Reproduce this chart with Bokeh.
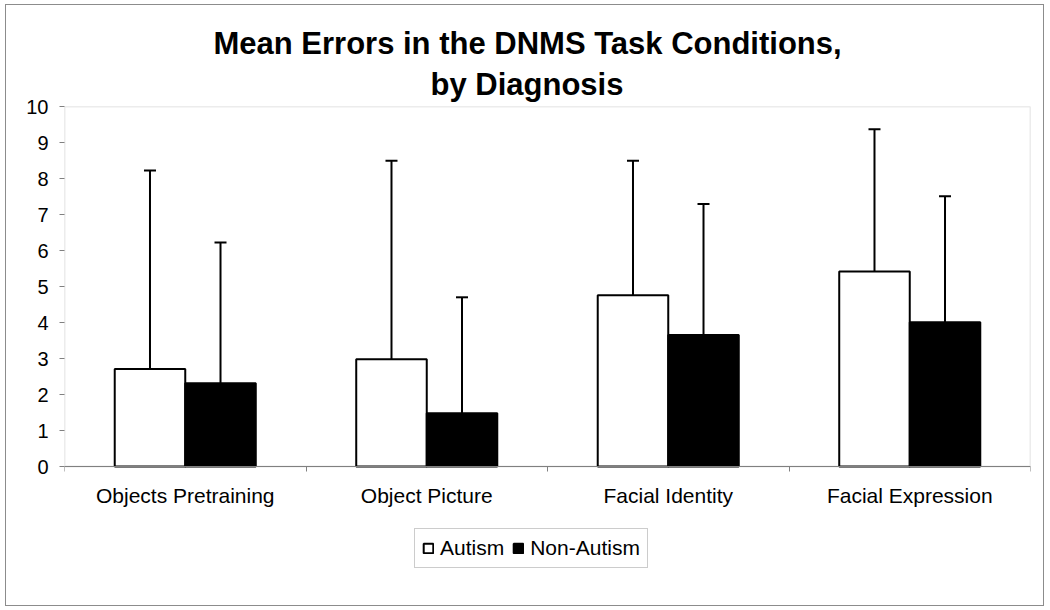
from bokeh.plotting import figure
from bokeh.models import (ColumnDataSource, Range1d, FixedTicker, Whisker, TeeHead,
                          Legend, LegendItem, Title, BoxAnnotation)
from bokeh.embed import file_html
from bokeh.resources import INLINE

categories = ["Objects Pretraining", "Object Picture", "Facial Identity", "Facial Expression"]
series = ["Autism", "Non-Autism"]
autism_mean = [2.71, 2.98, 4.76, 5.42]
autism_sd = [5.51, 5.51, 3.73, 3.95]
non_autism_mean = [2.31, 1.48, 3.65, 4.01]
non_autism_sd = [3.91, 3.22, 3.64, 3.50]
y_ticks = list(range(0, 11))
title_lines = ["Mean Errors in the DNMS Task Conditions,", "by Diagnosis"]

FONT = "Liberation Sans"
GRAY = "#808080"
BAR_W = 0.292
PX_PER_UNIT = 36          # 360 px for the 0-10 value axis
BELOW_PX = 134            # room under the value axis for labels and legend

centers = [i + 0.5 for i in range(len(categories))]

src_a = ColumnDataSource(dict(
    x=[c - BAR_W / 2 for c in centers], top=autism_mean,
    upper=[m + s for m, s in zip(autism_mean, autism_sd)]))
src_n = ColumnDataSource(dict(
    x=[c + BAR_W / 2 for c in centers], top=non_autism_mean,
    upper=[m + s for m, s in zip(non_autism_mean, non_autism_sd)]))

p = figure(frame_width=966, frame_height=10 * PX_PER_UNIT + BELOW_PX,
           output_backend="svg", toolbar_location=None, title=None,
           x_range=Range1d(0, len(categories)),
           y_range=Range1d(-BELOW_PX / PX_PER_UNIT, 10),
           min_border_left=58, min_border_right=13, min_border_top=101, min_border_bottom=5)
p.margin = (4, 0, 0, 5)
p.styles = {"border": "1px solid #8c8c8c"}

# two title lines (first added sits nearest the frame)
t2 = Title(text=title_lines[1], align="left", text_font=FONT, text_font_size="31px",
           text_font_style="bold", text_color="black", offset=366, standoff=9)
t1 = Title(text=title_lines[0], align="left", text_font=FONT, text_font_size="31px",
           text_font_style="bold", text_color="black", offset=149, standoff=0)
p.add_layout(t2, "above")
p.add_layout(t1, "above")

p.xgrid.visible = False
p.ygrid.visible = False
p.outline_line_color = None
p.background_fill_color = "white"

# plot-area box (0..4 x 0..10)
p.add_layout(BoxAnnotation(left=0, right=len(categories), bottom=0, top=10,
                           fill_alpha=0, line_color=GRAY, line_width=1.5, level="underlay"))

ra = p.vbar(x="x", top="top", width=BAR_W, bottom=0, source=src_a,
            fill_color="white", line_color="black", line_width=2)
rn = p.vbar(x="x", top="top", width=BAR_W, bottom=0, source=src_n,
            fill_color="black", line_color="black", line_width=2)

for src in (src_a, src_n):
    w = Whisker(base="x", upper="upper", lower="top", source=src, dimension="height",
                line_color="black", line_width=2,
                upper_head=TeeHead(size=12, line_color="black", line_width=2),
                lower_head=None)
    p.add_layout(w)

# x axis drawn at value 0: labels at centres, ticks at category boundaries
xa = p.xaxis[0]
xa.fixed_location = 0
xa.ticker = FixedTicker(ticks=centers, minor_ticks=list(range(len(categories) + 1)))
xa.major_label_overrides = {c: lab for c, lab in zip(centers, categories)}
xa.major_tick_out = 0
xa.major_tick_in = 0
xa.minor_tick_out = 5
xa.minor_tick_in = 0
xa.minor_tick_line_color = GRAY
xa.axis_line_color = GRAY
xa.major_label_text_font = FONT
xa.major_label_text_font_size = "21px"
xa.major_label_text_color = "black"
xa.major_label_standoff = 12

ya = p.yaxis[0]
ya.ticker = FixedTicker(ticks=y_ticks)
ya.major_tick_out = 5
ya.major_tick_in = 0
ya.minor_tick_out = 0
ya.minor_tick_in = 0
ya.major_tick_line_color = GRAY
ya.axis_line_color = None
ya.major_label_text_font = FONT
ya.major_label_text_font_size = "20px"
ya.major_label_text_color = "black"
ya.major_label_standoff = 11

legend = Legend(items=[LegendItem(label=series[0], renderers=[ra]),
                       LegendItem(label=series[1], renderers=[rn])],
                orientation="horizontal", location=(350, 32),
                label_text_font=FONT, label_text_font_size="21px",
                label_text_color="black",
                glyph_width=12, glyph_height=12, label_standoff=6, spacing=8,
                padding=7, margin=0,
                border_line_color="#999999", border_line_width=1,
                background_fill_color="white", background_fill_alpha=1)
p.add_layout(legend, "center")

open("out.html", "w").write(file_html(p, INLINE))
